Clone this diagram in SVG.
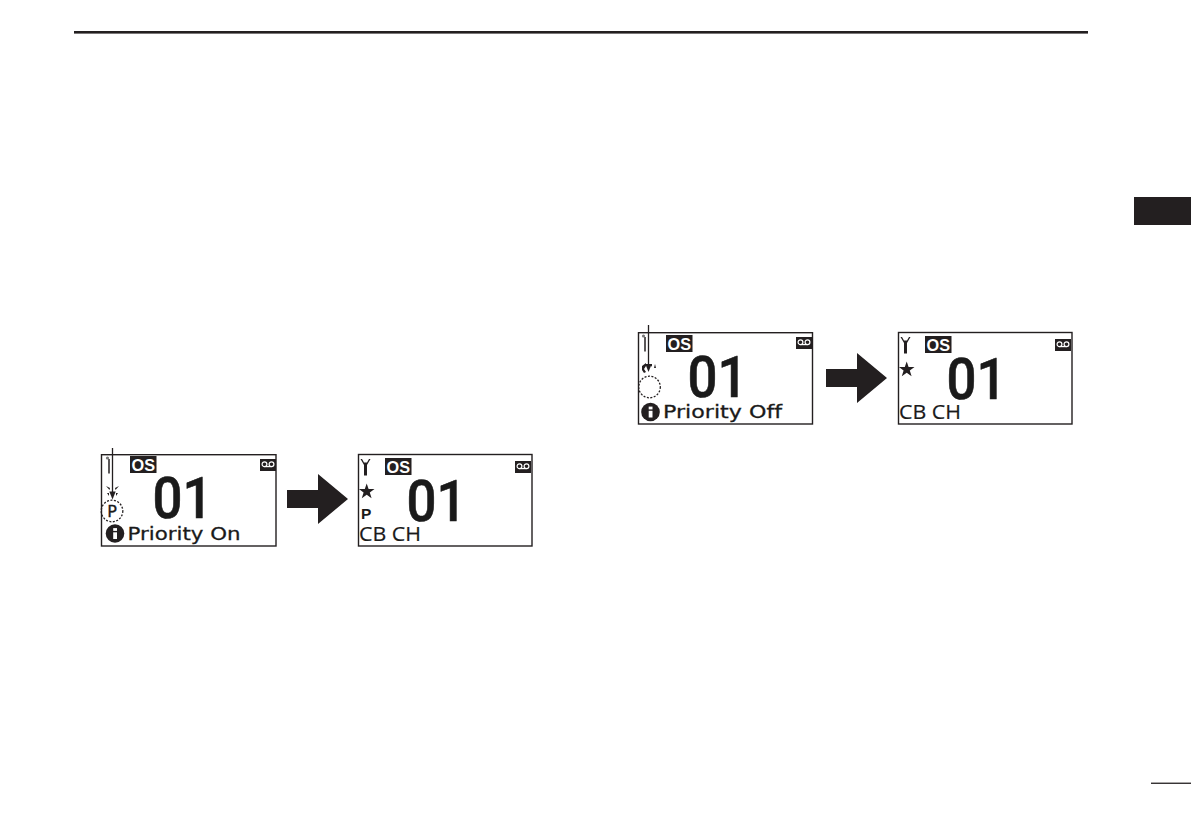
<svg xmlns="http://www.w3.org/2000/svg" xmlns:xlink="http://www.w3.org/1999/xlink" width="1191" height="839" viewBox="0 0 1191 839">
<style>
text{font-family:"DejaVu Sans","Liberation Sans",sans-serif;fill:#1a1a1a;font-variant-ligatures:none}
.frame{fill:#fff;stroke:#231f20;stroke-width:1.4}
.os{font-family:"Liberation Sans",sans-serif;font-weight:700;font-size:17px;fill:#fff}
.big{font-family:Roboto,"Liberation Sans",sans-serif;font-size:57px;font-weight:500;stroke:#1a1a1a;stroke-width:.6}
.lbl{font-size:18.500px;stroke:#1a1a1a;stroke-width:.3}
.cb{font-size:20px;font-family:"Open Sans","Liberation Sans",sans-serif;stroke:#1a1a1a;stroke-width:.2}
.p{font-family:"Liberation Sans",sans-serif;font-weight:700;font-size:15.500px}
.dash{fill:none;stroke:#231f20;stroke-width:1.300;stroke-dasharray:2 1.500}
.lead{stroke:#231f20;stroke-width:1.300;fill:none}
.dk{fill:#231f20}
</style>
<defs>
<g id="osbadge"><rect class="dk" x="0" y="0" width="26.500" height="17"/><text class="os" x="1.500" y="14.500" textLength="23.500" lengthAdjust="spacingAndGlyphs">OS</text></g>
<g id="tape"><rect class="dk" x="0" y="0" width="16" height="12"/><circle cx="4.500" cy="5.200" r="2.400" fill="none" stroke="#fff" stroke-width="1.200"/><circle cx="11.500" cy="5.200" r="2.400" fill="none" stroke="#fff" stroke-width="1.200"/><path d="M4.500 7.600H11.500" stroke="#fff" stroke-width="1.200"/></g>
<path id="star" d="M0-8 1.900-2.500 7.800-2.500 3.100 1 4.900 6.800 0 3.300-4.900 6.800-3.100 1-7.800-2.500-1.900-2.500Z" class="dk"/>
<g id="ant"><path class="dk" d="M-5 0H-3.500L-1.500 3.500H1.500L3.500 0H5L1.500 6V16.500H-1.500V6Z"/></g>
<g id="antfaded"><path d="M0 3.500V18" stroke="#231f20" stroke-width="1.500"/><circle cx="-1.500" cy="2.500" r="1.600" fill="#777"/></g>
<g id="info"><circle cx="0" cy="0" r="9.300" class="dk"/><rect x="-1.800" y="-1.200" width="3.800" height="6.700" fill="#fff"/><rect x="-1.800" y="-5.400" width="3.800" height="2.800" fill="#fff"/></g>
<path id="bigarrow" class="dk" d="M0 0H31V-16L61 9 31 34V18H0Z"/>
</defs>

<g id="header-rule"><rect class="dk" x="74" y="31" width="1014" height="2.600"/></g>
<g id="section-tab"><rect class="dk" x="1134" y="197" width="57" height="28"/></g>
<g id="page-rule"><rect class="dk" x="1151" y="782.600" width="40" height="1.300"/></g>

<g id="screen-priority-on">
<rect class="frame" x="101.500" y="454.700" width="174.500" height="91.300"/>
<use xlink:href="#antfaded" x="109" y="455.500"/>
<use xlink:href="#osbadge" x="130" y="456"/>
<use xlink:href="#tape" x="260" y="459"/>
<text class="big" x="152.500" y="518" textLength="60" lengthAdjust="spacingAndGlyphs">01</text>
<path class="dk" d="M106 486 110 488 109.500 490ZM119 486 115 488 115.500 490ZM107 493 109 493 109 496ZM118 493 116 493 116 496Z"/>
<circle class="dash" cx="112" cy="511" r="10.800"/>
<text x="112" y="516.500" text-anchor="middle" style="font-size:16px;stroke:#1a1a1a;stroke-width:.3">P</text>
<use xlink:href="#info" x="115" y="533.500"/>
<text class="lbl" x="127.500" y="539.500" textLength="113" lengthAdjust="spacingAndGlyphs">Priority On</text>
</g>

<g id="screen-cb-1">
<rect class="frame" x="358.500" y="454.500" width="173.500" height="91.500"/>
<use xlink:href="#ant" x="365.500" y="459"/>
<use xlink:href="#osbadge" x="385" y="458"/>
<use xlink:href="#tape" x="515" y="461"/>
<text class="big" x="406.500" y="521" textLength="60" lengthAdjust="spacingAndGlyphs">01</text>
<use xlink:href="#star" x="366.700" y="491.500"/>
<text class="p" x="361" y="519">P</text>
<text class="cb" x="359" y="541" textLength="62" lengthAdjust="spacingAndGlyphs">CB CH</text>
</g>

<g id="screen-priority-off">
<rect class="frame" x="638.500" y="332.700" width="174" height="91.300"/>
<use xlink:href="#antfaded" x="645" y="333.500"/>
<use xlink:href="#osbadge" x="666" y="335"/>
<use xlink:href="#tape" x="796" y="337"/>
<text class="big" x="687.500" y="397" textLength="60" lengthAdjust="spacingAndGlyphs">01</text>
<path class="dk" d="M642 366 646 363 646 366 644 369 646 372 644 373 642 370ZM650 364 652 364 652 367ZM655 364 656 368 654 368Z"/>
<circle class="dash" cx="649.500" cy="387" r="10.800"/>
<use xlink:href="#info" x="650.500" y="412"/>
<text class="lbl" x="663" y="417.500" textLength="119" lengthAdjust="spacingAndGlyphs">Priority Off</text>
</g>

<g id="screen-cb-2">
<rect class="frame" x="898.500" y="332.500" width="173.500" height="91.500"/>
<use xlink:href="#ant" x="905.500" y="337"/>
<use xlink:href="#osbadge" x="925" y="336"/>
<use xlink:href="#tape" x="1055" y="339"/>
<text class="big" x="946.500" y="399" textLength="60" lengthAdjust="spacingAndGlyphs">01</text>
<use xlink:href="#star" x="906.700" y="369.500"/>
<text class="cb" x="899" y="419" textLength="62" lengthAdjust="spacingAndGlyphs">CB CH</text>
</g>

<g id="connectors">
<use id="arrow-on" xlink:href="#bigarrow" x="287" y="490"/>
<use id="arrow-off" xlink:href="#bigarrow" x="826" y="369"/>
<path class="lead" d="M112.500 448V494"/>
<path class="dk" d="M112.500 499.500 109.300 491.500H115.700Z"/>
<path class="lead" d="M648.500 325V366"/>
<path class="dk" d="M648.500 372 645.300 364H651.700Z"/>
</g>
</svg>
